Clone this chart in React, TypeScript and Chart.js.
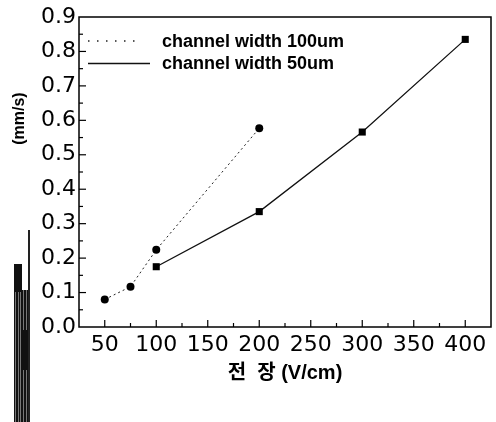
import React, { useEffect, useRef } from "react";
import { Chart, registerables } from "chart.js";

Chart.register(...registerables);

// ---- data ----
const fieldNarrow = [50, 75, 100, 200];
const speed100um = [0.08, 0.117, 0.224, 0.577];
const fieldWide = [100, 200, 300, 400];
const speed50um = [0.175, 0.335, 0.566, 0.835];
const seriesLabels = ["channel width 100um", "channel width 50um"];
const xTickValues = [50, 100, 150, 200, 250, 300, 350, 400];
const yTickValues = [0, 0.1, 0.2, 0.3, 0.4, 0.5, 0.6, 0.7, 0.8, 0.9];
const xTitle = "전  장 (V/cm)";
const yTitle = "(mm/s)";
const xMin = 25;
const xMax = 425;
const xMinorStep = 25;
const yMin = 0;
const yMax = 0.9;
const yMinorStep = 0.05;

const LATIN = "'Liberation Sans', Arial, sans-serif";
const TICKFONT = "'DejaVu Sans', sans-serif";

const framePlugin = {
  id: "frameTicksLegend",
  afterDraw(chart: any) {
    const { ctx, chartArea: a, scales } = chart;
    ctx.save();
    ctx.strokeStyle = "#000";
    ctx.lineWidth = 1.5;
    ctx.setLineDash([]);
    ctx.strokeRect(a.left, a.top, a.right - a.left, a.bottom - a.top);

    ctx.lineWidth = 1.2;
    // y inside ticks
    const yn = Math.round((yMax - yMin) / yMinorStep);
    for (let i = 1; i < yn; i++) {
      const v = yMin + i * yMinorStep;
      const y = scales.y.getPixelForValue(v);
      const major = yTickValues.some((t) => Math.abs(t - v) < 1e-6);
      ctx.beginPath();
      ctx.moveTo(a.left, y);
      ctx.lineTo(a.left + (major ? 7 : 4), y);
      ctx.stroke();
    }
    // x inside ticks
    const xn = Math.round((xMax - xMin) / xMinorStep);
    for (let i = 1; i < xn; i++) {
      const v = xMin + i * xMinorStep;
      const x = scales.x.getPixelForValue(v);
      const major = xTickValues.includes(v);
      ctx.beginPath();
      ctx.moveTo(x, a.bottom);
      ctx.lineTo(x, a.bottom - (major ? 7 : 4));
      ctx.stroke();
    }

    // y-axis title (placed in the upper half, as in the reference)
    ctx.save();
    ctx.translate(20, scales.y.getPixelForValue(0.605));
    ctx.rotate(-Math.PI / 2);
    ctx.font = `bold 16px ${LATIN}`;
    ctx.textAlign = "center";
    ctx.textBaseline = "middle";
    ctx.fillStyle = "#000";
    ctx.fillText(yTitle, 0, 0);
    ctx.restore();

    // legend inside plot
    const ds = chart.data.datasets;
    const lx0 = a.left + 9;
    const rows = [a.top + 24, a.top + 46.5];
    const lens = [54, 62];
    ctx.font = `bold 18px ${LATIN}`;
    ctx.textBaseline = "middle";
    ctx.textAlign = "left";
    ctx.fillStyle = "#000";
    ds.forEach((d: any, i: number) => {
      ctx.beginPath();
      ctx.strokeStyle = d.borderColor;
      ctx.lineWidth = i === 0 ? 1.3 : 1.6;
      ctx.setLineDash(i === 0 ? [1.5, 7.5] : []);
      ctx.moveTo(lx0, rows[i]);
      ctx.lineTo(lx0 + lens[i], rows[i]);
      ctx.stroke();
      ctx.setLineDash([]);
      ctx.fillText(d.label, a.left + 83, rows[i] + 1);
    });
    ctx.restore();
  },
};

export default function App() {
  const ref = useRef<HTMLCanvasElement | null>(null);

  useEffect(() => {
    if (!ref.current) return;
    const chart = new Chart(ref.current, {
      type: "scatter",
      data: {
        datasets: [
          {
            label: seriesLabels[0],
            data: fieldNarrow.map((x, i) => ({ x, y: speed100um[i] })),
            showLine: true,
            borderColor: "#222",
            borderWidth: 1,
            borderDash: [2, 3],
            pointStyle: "circle",
            pointRadius: 4,
            pointBackgroundColor: "#000",
            pointBorderColor: "#000",
            pointBorderWidth: 0,
          },
          {
            label: seriesLabels[1],
            data: fieldWide.map((x, i) => ({ x, y: speed50um[i] })),
            showLine: true,
            borderColor: "#111",
            borderWidth: 1.3,
            pointStyle: "rect",
            pointRadius: 5,
            pointBackgroundColor: "#000",
            pointBorderColor: "#000",
            pointBorderWidth: 0,
          },
        ],
      },
      options: {
        animation: false,
        responsive: true,
        maintainAspectRatio: false,
        layout: { padding: { top: 17, right: 3, left: 0, bottom: 0 } },
        plugins: {
          legend: { display: false },
          tooltip: { enabled: false },
        },
        scales: {
          x: {
            type: "linear",
            min: xMin,
            max: xMax,
            border: { display: false },
            grid: { display: false, drawTicks: false },
            afterBuildTicks: (s: any) => {
              s.ticks = xTickValues.map((value) => ({ value }));
            },
            ticks: {
              padding: 5,
              color: "#000",
              font: { family: TICKFONT, size: 22, lineHeight: 1.2 },
              callback: (v: any) => String(v),
              maxRotation: 0,
              autoSkip: false,
            },
            title: {
              display: true,
              text: xTitle,
              color: "#000",
              font: { family: `${LATIN}, 'Noto Sans CJK KR'`, size: 20, weight: "bold", lineHeight: 1.2 },
              padding: { top: 0, bottom: 37 },
            },
            afterFit: (s: any) => {
              s.height = 95;
            },
          },
          y: {
            type: "linear",
            min: yMin,
            max: yMax,
            border: { display: false },
            grid: { display: false, drawTicks: false },
            afterBuildTicks: (s: any) => {
              s.ticks = yTickValues.map((value) => ({ value }));
            },
            ticks: {
              padding: 3,
              color: "#000",
              font: { family: TICKFONT, size: 22, lineHeight: 1.2 },
              callback: (v: any) => Number(v).toFixed(1),
            },
            title: { display: false },
            afterFit: (s: any) => {
              s.width = 79;
            },
          },
        },
      },
      plugins: [framePlugin],
    } as any);
    return () => chart.destroy();
  }, []);

  const stripes =
    "repeating-linear-gradient(90deg, #111 0px, #111 1.5px, #777 1.5px, #777 2.5px)";

  return (
    <div
      style={{
        position: "fixed",
        left: 0,
        top: 0,
        width: 496,
        height: 422,
        background: "#fff",
        overflow: "hidden",
      }}
    >
      <canvas ref={ref} />
      <div style={{ position: "absolute", left: 28, top: 230, width: 1.5, height: 192, background: "#222" }} />
      <div style={{ position: "absolute", left: 14, top: 264, width: 8, height: 158, background: stripes }} />
      <div style={{ position: "absolute", left: 14, top: 264, width: 8, height: 28, background: "#111" }} />
      <div style={{ position: "absolute", left: 22, top: 290, width: 6, height: 132, background: stripes }} />
      <div style={{ position: "absolute", left: 22, top: 330, width: 6, height: 40, background: "#111" }} />
    </div>
  );
}
